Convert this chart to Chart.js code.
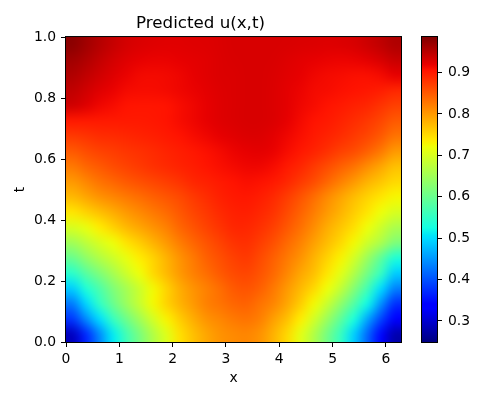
<!DOCTYPE html>
<html>
<head>
<meta charset="utf-8">
<script src="https://cdn.jsdelivr.net/npm/chart.js@4.4.0/dist/chart.umd.min.js"></script>
<style>
  body { margin: 0; background: #fff; }
  #wrap { position: relative; width: 500px; height: 400px; }
  #wrap canvas { position: absolute; left: 0; top: 0; }
</style>
</head>
<body>
<div id="wrap">
  <canvas id="heatChart" width="500" height="400"></canvas>
  <canvas id="colorBar" width="500" height="400"></canvas>
</div>
<script>
// grid: x in [0, 2pi] split in 25 columns, t in [0, 1] split in 20 rows
const xMax = 2 * Math.PI;
const nCols = 25;
const tMax = 1;
const nRows = 20;

const xTicks = [0, 1, 2, 3, 4, 5, 6];
const tTicks = [0, 0.2, 0.4, 0.6, 0.8, 1.0];
const cbTicks = [0.3, 0.4, 0.5, 0.6, 0.7, 0.8, 0.9];
const vMin = 0.249;
const vMax = 0.986;

// predicted u, one row per t band (bottom to top)
const t0025 = [0.29,0.37,0.44,0.51,0.565,0.615,0.665,0.705,0.745,0.77,0.79,0.805,0.812,0.815,0.805,0.78,0.75,0.71,0.665,0.61,0.555,0.49,0.415,0.345,0.28];
const t0075 = [0.38,0.44,0.50,0.555,0.605,0.65,0.695,0.73,0.76,0.785,0.805,0.815,0.825,0.83,0.82,0.795,0.77,0.735,0.695,0.645,0.59,0.53,0.46,0.39,0.33];
const t0125 = [0.43,0.495,0.55,0.60,0.645,0.685,0.725,0.755,0.78,0.80,0.82,0.83,0.84,0.843,0.83,0.815,0.79,0.76,0.725,0.685,0.635,0.58,0.52,0.445,0.375];
const t0175 = [0.49,0.535,0.575,0.62,0.655,0.69,0.725,0.755,0.785,0.805,0.82,0.835,0.85,0.855,0.845,0.825,0.80,0.775,0.75,0.72,0.68,0.625,0.565,0.50,0.435];
const t0225 = [0.545,0.585,0.62,0.655,0.69,0.72,0.75,0.775,0.80,0.82,0.835,0.85,0.862,0.866,0.855,0.838,0.815,0.79,0.77,0.74,0.71,0.665,0.61,0.555,0.49];
const t0275 = [0.60,0.635,0.665,0.69,0.715,0.735,0.755,0.78,0.805,0.825,0.845,0.858,0.87,0.875,0.862,0.845,0.825,0.805,0.78,0.755,0.73,0.695,0.645,0.59,0.535];
const t0325 = [0.65,0.675,0.70,0.72,0.742,0.76,0.78,0.80,0.822,0.84,0.855,0.868,0.88,0.883,0.872,0.857,0.838,0.818,0.795,0.772,0.75,0.725,0.69,0.66,0.62];
const t0375 = [0.70,0.715,0.735,0.755,0.775,0.79,0.805,0.82,0.84,0.855,0.868,0.88,0.89,0.89,0.882,0.87,0.852,0.832,0.81,0.785,0.765,0.745,0.72,0.69,0.66];
const t0425 = [0.74,0.755,0.77,0.785,0.80,0.813,0.825,0.837,0.852,0.866,0.877,0.888,0.895,0.896,0.89,0.88,0.863,0.843,0.822,0.80,0.78,0.76,0.74,0.72,0.70];
const t0475 = [0.775,0.79,0.805,0.815,0.825,0.835,0.845,0.853,0.863,0.875,0.885,0.895,0.90,0.902,0.897,0.888,0.873,0.855,0.835,0.812,0.792,0.772,0.755,0.74,0.727];
const t0525 = [0.80,0.815,0.83,0.84,0.85,0.858,0.865,0.872,0.88,0.89,0.895,0.90,0.905,0.908,0.906,0.90,0.89,0.875,0.86,0.84,0.82,0.80,0.78,0.765,0.75];
const t0575 = [0.825,0.84,0.85,0.86,0.868,0.875,0.882,0.888,0.893,0.898,0.903,0.908,0.912,0.915,0.915,0.91,0.90,0.89,0.875,0.86,0.845,0.83,0.81,0.79,0.77];
const t0625 = [0.85,0.86,0.868,0.873,0.878,0.882,0.887,0.892,0.897,0.902,0.907,0.912,0.917,0.92,0.922,0.918,0.91,0.902,0.893,0.882,0.87,0.86,0.845,0.825,0.80];
const t0675 = [0.875,0.88,0.885,0.887,0.89,0.893,0.896,0.90,0.905,0.91,0.915,0.92,0.924,0.927,0.927,0.922,0.915,0.908,0.90,0.893,0.885,0.875,0.865,0.85,0.83];
const t0725 = [0.90,0.90,0.90,0.90,0.90,0.90,0.902,0.905,0.91,0.915,0.92,0.925,0.928,0.93,0.93,0.927,0.92,0.912,0.905,0.90,0.893,0.885,0.877,0.865,0.85];
const t0775 = [0.935,0.925,0.915,0.91,0.905,0.903,0.903,0.905,0.91,0.915,0.92,0.925,0.928,0.93,0.93,0.927,0.922,0.915,0.91,0.905,0.90,0.895,0.89,0.88,0.87];
const t0825 = [0.945,0.935,0.925,0.918,0.912,0.91,0.91,0.912,0.915,0.918,0.922,0.926,0.928,0.93,0.93,0.927,0.922,0.917,0.912,0.91,0.907,0.905,0.902,0.897,0.89];
const t0875 = [0.955,0.945,0.935,0.926,0.918,0.913,0.912,0.913,0.916,0.92,0.924,0.927,0.928,0.93,0.93,0.928,0.924,0.92,0.915,0.912,0.91,0.908,0.908,0.912,0.92];
const t0925 = [0.965,0.955,0.943,0.933,0.925,0.92,0.918,0.918,0.92,0.922,0.924,0.927,0.929,0.93,0.93,0.929,0.926,0.923,0.92,0.918,0.917,0.918,0.922,0.93,0.94];
const t0975 = [0.978,0.965,0.952,0.941,0.932,0.928,0.925,0.924,0.924,0.925,0.926,0.928,0.93,0.93,0.93,0.93,0.929,0.928,0.927,0.926,0.927,0.93,0.937,0.945,0.955];

const uGrid = [t0025, t0075, t0125, t0175, t0225, t0275, t0325, t0375, t0425, t0475,
               t0525, t0575, t0625, t0675, t0725, t0775, t0825, t0875, t0925, t0975];

Chart.defaults.font.family = "'DejaVu Sans', sans-serif";
Chart.defaults.color = '#000';

// matplotlib "jet"
function jet(n) {
    n = Math.min(1, Math.max(0, n));
    function seg(pts) {
        for (let i = 1; i < pts.length; i++) {
            if (n <= pts[i][0]) {
                const a = pts[i - 1], b = pts[i];
                return a[1] + (b[1] - a[1]) * (n - a[0]) / (b[0] - a[0]);
            }
        }
        return pts[pts.length - 1][1];
    }
    const r = seg([[0, 0], [0.35, 0], [0.66, 1], [0.89, 1], [1, 0.5]]);
    const g = seg([[0, 0], [0.125, 0], [0.375, 1], [0.64, 1], [0.91, 0], [1, 0]]);
    const b = seg([[0, 0.5], [0.11, 1], [0.34, 1], [0.65, 0], [1, 0]]);
    return [Math.round(r * 255), Math.round(g * 255), Math.round(b * 255)];
}
const jetCss = n => 'rgb(' + jet(n).join(',') + ')';
const jetStops = [0, 0.11, 0.125, 0.34, 0.35, 0.375, 0.64, 0.65, 0.66, 0.89, 0.91, 1];

function frame(chart) {
    const a = chart.chartArea;
    const ctx = chart.ctx;
    ctx.save();
    ctx.strokeStyle = '#000';
    ctx.lineWidth = 1;
    ctx.strokeRect(a.left - 0.5, a.top - 0.5, a.right - a.left + 1, a.bottom - a.top + 1);
    ctx.restore();
}

// one texel per grid cell, shaded bilinearly like imshow(interpolation='bilinear')
const cellImage = document.createElement('canvas');
cellImage.width = nCols;
cellImage.height = nRows;
(function () {
    const c = cellImage.getContext('2d');
    const img = c.createImageData(nCols, nRows);
    uGrid.forEach((row, r) => {
        row.forEach((v, col) => {
            const rgb = jet((v - vMin) / (vMax - vMin));
            const k = ((nRows - 1 - r) * nCols + col) * 4;
            img.data[k] = rgb[0];
            img.data[k + 1] = rgb[1];
            img.data[k + 2] = rgb[2];
            img.data[k + 3] = 255;
        });
    });
    c.putImageData(img, 0, 0);
})();

const heatCells = {
    id: 'heatCells',
    beforeDatasetsDraw(chart) {
        const ctx = chart.ctx;
        const xs = chart.scales.x, ys = chart.scales.y;
        const xl = xs.getPixelForValue(0), xr = xs.getPixelForValue(xMax);
        const yt = ys.getPixelForValue(tMax), yb = ys.getPixelForValue(0);
        ctx.save();
        ctx.imageSmoothingEnabled = true;
        ctx.imageSmoothingQuality = 'high';
        ctx.drawImage(cellImage, xl, yt, xr - xl, yb - yt);
        ctx.restore();
    },
    afterDraw: frame
};

const tickGrid = { drawOnChartArea: false, color: '#000', tickLength: 5, tickWidth: 1 };

new Chart(document.getElementById('heatChart'), {
    type: 'scatter',
    data: { datasets: [{ data: [] }] },
    options: {
        responsive: false,
        animation: false,
        layout: { padding: { left: 0, right: 99, top: 0, bottom: 0 } },
        plugins: {
            legend: { display: false },
            tooltip: { enabled: false },
            title: {
                display: true,
                text: 'Predicted u(x,t)',
                color: '#000',
                font: { size: 16.7, weight: 'normal' },
                padding: { top: 14, bottom: 3 }
            }
        },
        scales: {
            x: {
                type: 'linear',
                min: 0,
                max: xMax,
                afterBuildTicks: s => { s.ticks = xTicks.map(v => ({ value: v })); },
                afterFit: s => { s.height = 58; },
                ticks: { font: { size: 13.9 }, padding: 4, maxRotation: 0, callback: v => String(v) },
                grid: tickGrid,
                border: { display: false },
                title: { display: true, text: 'x', font: { size: 13.9 }, padding: { top: 0, bottom: 13 } }
            },
            y: {
                type: 'linear',
                min: 0,
                max: tMax,
                afterBuildTicks: s => { s.ticks = tTicks.map(v => ({ value: v })); },
                afterFit: s => { s.width = 66; },
                ticks: { font: { size: 13.9 }, padding: 5, callback: v => v.toFixed(1) },
                grid: tickGrid,
                border: { display: false },
                title: { display: true, text: 't', font: { size: 13.9 }, padding: { top: 12, bottom: 0 } }
            }
        }
    },
    plugins: [heatCells]
});

// colour bar: a second chart whose y scale carries the value ticks
const barFill = {
    id: 'barFill',
    beforeDatasetsDraw(chart) {
        const ctx = chart.ctx, a = chart.chartArea, ys = chart.scales.y;
        const g = ctx.createLinearGradient(0, ys.getPixelForValue(vMin), 0, ys.getPixelForValue(vMax));
        jetStops.forEach(s => g.addColorStop(s, jetCss(s)));
        ctx.save();
        ctx.fillStyle = g;
        ctx.fillRect(a.left, a.top, a.right - a.left, a.bottom - a.top);
        ctx.restore();
    },
    afterDraw: frame
};

new Chart(document.getElementById('colorBar'), {
    type: 'bar',
    data: { labels: [''], datasets: [] },
    options: {
        responsive: false,
        animation: false,
        layout: { padding: { left: 422, right: 0, top: 37, bottom: 58 } },
        plugins: { legend: { display: false }, tooltip: { enabled: false } },
        scales: {
            x: { display: false },
            y: {
                type: 'linear',
                position: 'right',
                min: vMin,
                max: vMax,
                afterBuildTicks: s => { s.ticks = cbTicks.map(v => ({ value: v })); },
                afterFit: s => { s.width = 63; },
                ticks: { font: { size: 13.9 }, padding: 6, callback: v => v.toFixed(1) },
                grid: tickGrid,
                border: { display: false }
            }
        }
    },
    plugins: [barFill]
});
</script>
</body>
</html>
